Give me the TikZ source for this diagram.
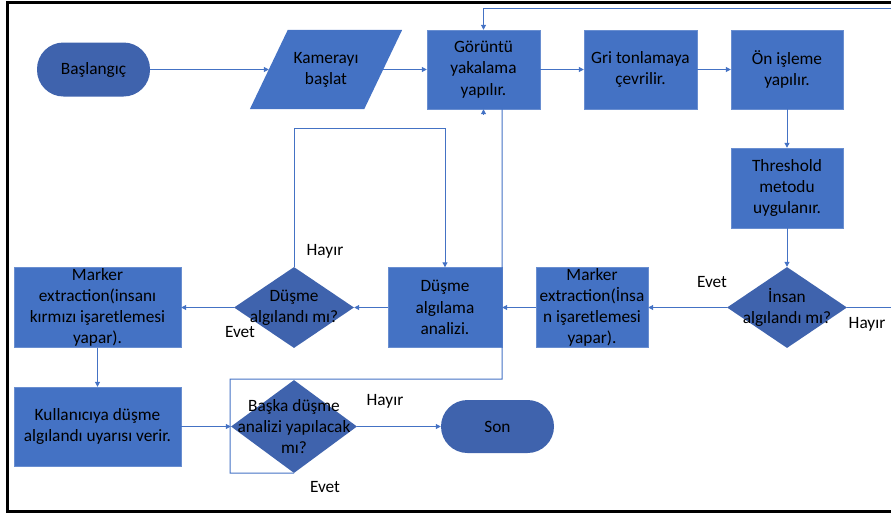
\documentclass[tikz,border=0pt]{standalone}
\usepackage{fontspec}
\setmainfont{Carlito}
\usetikzlibrary{shapes.geometric, arrows.meta}
\pgfdeclarelayer{bg}
\pgfsetlayers{bg,main}
\definecolor{boxblue}{HTML}{4472C4}
\definecolor{darkblue}{HTML}{3F63AD}
\tikzset{
    every node/.style={font=\fontsize{17.3}{21.2}\selectfont, align=center,
    	inner sep=0pt},
    box/.style={rectangle, fill=boxblue, draw=boxblue!80!white,
    	minimum width=113pt, minimum height=79pt},
    term/.style={rectangle, rounded corners=26.5pt, fill=darkblue,
    	minimum width=113pt, minimum height=54pt},
    dec/.style={diamond, fill=darkblue, minimum width=120pt,
    	minimum height=81pt},
    wire/.style={draw=boxblue, line width=1pt},
    arr/.style={wire, -{Triangle[length=5pt, width=5pt]}}
}

\begin{document}
\begin{tikzpicture}[x=1pt, y=-1pt]
  \useasboundingbox (0,0) rectangle (891,515);
  \draw [line width=3pt] (891,2.5) -- (7,2.5) -- (7,511.5) -- (891,511.5);

  \node (start) [term] at (93.5, 69.5) {Başlangıç};
  \node (cam) [minimum width=114pt, minimum height=79pt] at (326, 69.5) {Kamerayı\\başlat};
  \node (gor) [box] at (483.5, 69.5) {Görüntü\\yakalama\\yapılır.};
  \node (gri) [box] at (640.5, 69.5) {Gri tonlamaya\\çevrilir.};
  \node (on) [box, minimum width=112pt] at (787, 69.5) {Ön işleme\\yapılır.};
  \node (thr) [box, minimum width=112pt, minimum height=80pt] at (787, 188) {Threshold\\metodu\\uygulanır.};
  \node (hum) [dec, label={center:İnsan\\algılandı mı?}] at (787, 307.5) {};
  \node (mk2) [box, minimum width=112pt, minimum height=80pt,
  	label={center:Marker\\extraction(İnsa\\n işaretlemesi\\yapar).}] at (592, 307.5) {};
  \node (fan) [box, minimum width=114pt, minimum height=80pt] at (445, 307.5) {Düşme\\algılama\\analizi.};
  \node (fall) [dec, label={center:Düşme\\algılandı mı?}] at (294, 307.5) {};
  \node (mk1) [box, minimum width=167pt, minimum height=80pt,
  	label={center:Marker\\extraction(insanı\\kırmızı işaretlemesi\\yapar).}] at (97.5, 307.5) {};
  \node (warn) [box, minimum width=167pt] at (97.5, 426.5) {Kullanıcıya düşme\\algılandı uyarısı verir.};
  \node (more) [dec, minimum width=126pt, minimum height=93pt,
  	label={center:Başka düşme\\analizi yapılacak\\mı?}] at (294, 426.5) {};
  \node (son) [term, minimum height=53pt] at (497.5, 426.5) {Son};

  \node (e1) at (712, 282) {Evet};
  \node (h1) at (867, 324) {Hayır};
  \node (h2) at (325, 251) {Hayır};
  \node (e2) at (240, 332) {Evet};
  \node (h3) at (385, 401) {Hayır};
  \node (e3) at (325, 487) {Evet};

  \coordinate (topR) at (896, 8);
  \coordinate (upF) at (445, 128);
  \coordinate (lpA) at (230, 473);
  \coordinate (lpB) at (502, 379);

  \begin{pgfonlayer}{bg}
    \fill [boxblue] ([xshift=19pt]cam.north west) -- ([xshift=19pt]cam.north east)
      -- ([xshift=-19pt]cam.south east) -- ([xshift=-19pt]cam.south west) -- cycle;
  \end{pgfonlayer}

  \draw (start) edge [arr] (cam);
  \draw (cam) edge [arr] (gor);
  \draw (gor) edge [arr] (gri);
  \draw (gri) edge [arr] (on);
  \draw (on) edge [arr] (thr);
  \draw (thr) edge [arr] (hum);
  \draw (hum) edge [arr] (mk2);
  \draw (mk2) edge [arr] (fan);
  \draw (fan) edge [arr] (fall);
  \draw (fall) edge [arr] (mk1);
  \draw (mk1) edge [arr] (warn);
  \draw (warn) edge [arr] (more);
  \draw (more) edge [arr] (son);
  \draw [arr] (hum.east) -| (topR) -| (gor.north);
  \draw [arr] (fall.north) |- (upF) -- (fan.north);
  \draw [wire] (more.south) -- (lpA) |- (lpB) -- (lpB |- gor.south);
  \draw [arr] ([yshift=-5pt]gor.south) -- (gor.south);
\end{tikzpicture}
\end{document}
